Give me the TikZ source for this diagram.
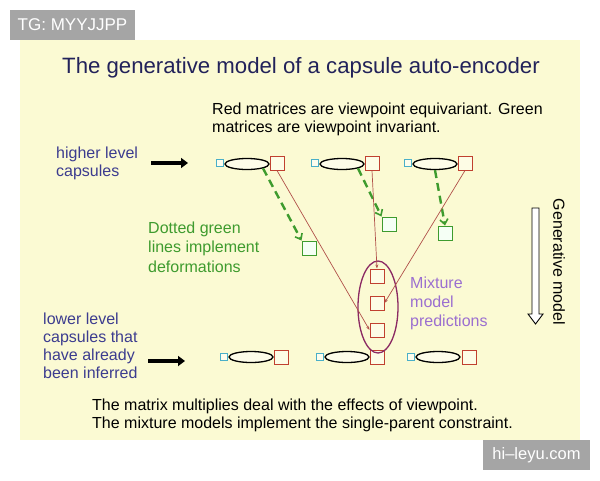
\documentclass[tikz,border=0pt]{standalone}
\usepackage{fontspec}
\setmainfont{Liberation Sans}
\usetikzlibrary{arrows.meta,shapes.geometric}
\definecolor{bgy}{HTML}{FBFAD3}
\definecolor{tagg}{HTML}{A5A5A5}
\definecolor{titlec}{HTML}{22225A}
\definecolor{bluec}{HTML}{3C3C8F}
\definecolor{greenc}{HTML}{3E9B2E}
\definecolor{purplec}{HTML}{9B6FD0}
\definecolor{redc}{HTML}{C0402F}
\definecolor{redline}{HTML}{B0504A}
\definecolor{cyanc}{HTML}{4AAFC8}
\definecolor{mixc}{HTML}{8B2A63}
\begin{document}
\begin{tikzpicture}[x=1pt,y=-1pt,
  caps/.style={draw=black, line width=1.3pt, ellipse, fill=white!50!bgy, minimum width=44pt, minimum height=11pt, inner sep=0pt},
  cyansq/.style={draw=cyanc, line width=0.9pt, fill=white!60!bgy, minimum size=7pt, inner sep=0pt},
  redsq/.style={draw=redc, line width=1pt, fill=white!40!bgy, minimum size=14pt, inner sep=0pt},
  greensq/.style={draw=greenc, line width=1pt, fill=green!4!white, minimum size=14pt, inner sep=0pt},
  gdash/.style={draw=greenc, line width=2.4pt, dash pattern=on 8pt off 5pt, -{Straight Barb[length=5pt,width=8pt,line width=1.6pt]}},
  redarr/.style={draw=redline, line width=0.7pt, -{Stealth[length=4pt,width=3pt]}},
  bigarr/.style={line width=3.5pt, -{Triangle[length=7pt,width=10pt]}},
  txt/.style={inner sep=0pt, anchor=north west, align=left},
  tag/.style={fill=tagg, text=white, inner sep=0pt}
]
\useasboundingbox (0,0) rectangle (600,480);
\fill[white] (0,0) rectangle (600,480);
\fill[bgy] (20,40) rectangle (580,440);

% watermarks
\node[tag, minimum width=125pt, minimum height=30pt, font=\fontsize{17}{20}\selectfont] (tg) at (72.5,25) {TG: MYYJJPP};
\node[tag, minimum width=107pt, minimum height=30pt, font=\fontsize{16.5}{20}\selectfont] (hl) at (536.5,455) {hi–leyu.com};

% title
\node[inner sep=0pt, anchor=base, text=titlec, font=\fontsize{22.2}{26}\selectfont] (title) at (301,73) {The generative model of a capsule auto-encoder};

% texts
\node[txt, font=\fontsize{16}{18}\selectfont] (redtxt) at (212,102.5) {Red matrices are viewpoint equivariant. Green\\matrices are viewpoint invariant.};
\node[txt, text=bluec, font=\fontsize{16}{18}\selectfont] (hitxt) at (56,146.5) {higher level\\capsules};
\node[txt, text=greenc, font=\fontsize{16}{19.5}\selectfont] (gtxt) at (148,221.5) {Dotted green\\lines implement\\deformations};
\node[txt, text=purplec, font=\fontsize{16}{19}\selectfont] (mtxt) at (410,276.5) {Mixture\\model\\predictions};
\node[txt, text=bluec, font=\fontsize{16}{18}\selectfont] (lotxt) at (43,312.5) {lower level\\capsules that\\have already\\been inferred};
\node[txt, font=\fontsize{16}{18.5}\selectfont] (bottxt) at (92,398.5) {The matrix multiplies deal with the effects of viewpoint.\\The mixture models implement the single-parent constraint.};

% black arrows
\coordinate (ha1) at (151,163);
\coordinate (ha2) at (188,163);
\draw[bigarr] (ha1) -- (ha2);
\coordinate (la1) at (148,361);
\coordinate (la2) at (185,361);
\draw[bigarr] (la1) -- (la2);

% top row capsules
\node[caps] (e1) at (247,164) {};
\node[cyansq] (c1) at (220,163) {};
\node[redsq] (r1) at (277,163) {};
\node[caps] (e2) at (342,164) {};
\node[cyansq] (c2) at (315,163) {};
\node[redsq] (r2) at (372,163) {};
\node[caps] (e3) at (435,164) {};
\node[cyansq] (c3) at (408,163) {};
\node[redsq] (r3) at (465,163) {};

% bottom row capsules
\node[caps] (f1) at (251,357) {};
\node[cyansq] (d1) at (224,357) {};
\node[redsq] (s1) at (281,357) {};
\node[caps] (f2) at (347,357) {};
\node[cyansq] (d2) at (320,357) {};
\node[redsq] (s2) at (377,357) {};
\node[caps] (f3) at (438,357) {};
\node[cyansq] (d3) at (411,357) {};
\node[redsq] (s3) at (469,357) {};

% green squares
\node[greensq] (g1) at (309,248) {};
\node[greensq] (g2) at (389,224) {};
\node[greensq] (g3) at (445,233) {};

% mixture
\node[draw=mixc, line width=1.3pt, ellipse, minimum width=40pt, minimum height=92pt, inner sep=0pt] (mix) at (378,307) {};
\node[redsq] (m1) at (377,276) {};
\node[redsq] (m2) at (377,303) {};
\node[redsq] (m3) at (377,330) {};

% green dashed arrows
\draw[gdash] (e1.south east) -- (g1.north west);
\draw[gdash] (e2.south east) -- (g2.north west);
\draw[gdash] (e3.south) -- (g3.north);

% red lines
\draw[redarr] (r1.south) -- (m3.west);
\draw[redarr] (r2.south) -- (m1.north);
\draw[redarr] (r3.south) -- (m2.east);

% generative model arrow
\draw[line width=0.9pt, fill=white] (532,208) -- (539,208) -- (539,314) -- (543,314) -- (535.5,324) -- (528,314) -- (532,314) -- cycle;
\node[inner sep=0pt, rotate=-90, font=\fontsize{16}{19}\selectfont] (gen) at (559,262) {Generative model};
\end{tikzpicture}
\end{document}
